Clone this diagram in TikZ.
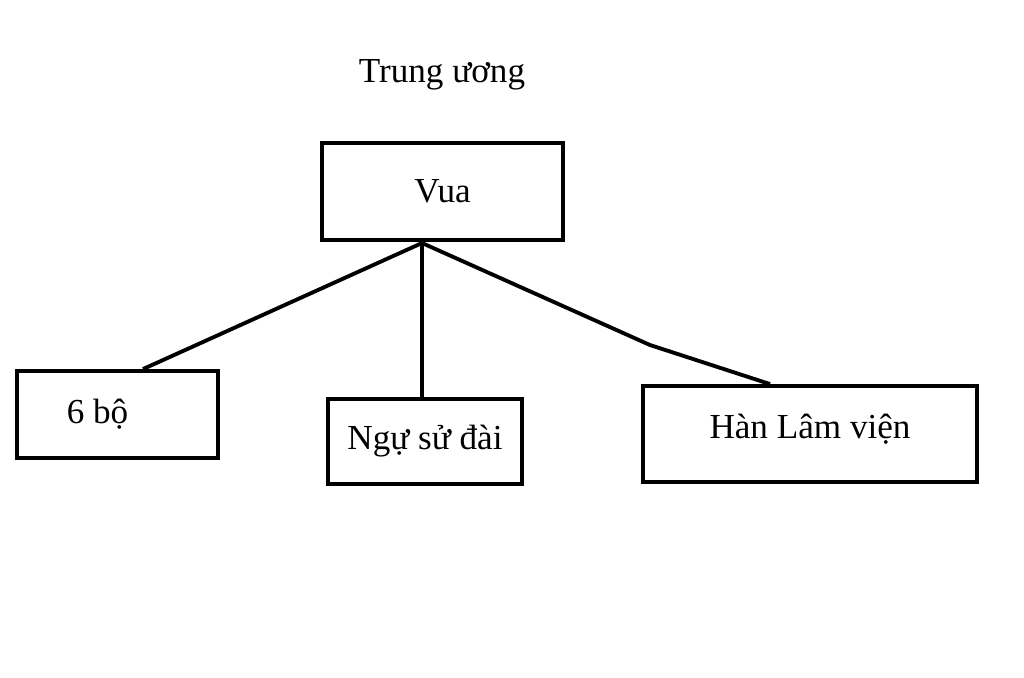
\documentclass[tikz,border=0pt]{standalone}
\usepackage{fontspec}
\setmainfont{Liberation Serif}
\usetikzlibrary{positioning}

\begin{document}
\begin{tikzpicture}[x=0.02cm, y=-0.02cm,
    box/.style={draw, line width=2.2pt, minimum width=#1, inner sep=0pt},
    link/.style={line width=2.2pt, line join=round}]
    \useasboundingbox (0,0) rectangle (1024,677);
    \fontsize{20pt}{24pt}\selectfont

    % Title
    \node (title) at (442,75) {Trung ương};

    % Boxes
    \node[box=4.82cm, minimum height=1.94cm] (vua) at (442.5,191.5) {Vua};
    \node[box=4.02cm, minimum height=1.74cm] (bo) at (117.5,414.5) {\hspace*{-0.8cm}6 bộ};
    \node[box=3.88cm, minimum height=1.70cm] (ngu) at (425,441.5) {Ngự sử đài};
    \node[box=6.68cm, minimum height=1.92cm] (han) at (810,434) {\raisebox{0.3cm}{Hàn Lâm viện}};

    % Connectors
    \coordinate (hub) at (422,243);
    \coordinate (bend) at (650,345);
    \draw[link] (hub) -- (bo.north -| 143,0);
    \draw[link] (hub) -- (hub |- ngu.north);
    \draw[link] (hub) -- (bend) -- (han.north -| 770,0);
\end{tikzpicture}
\end{document}
